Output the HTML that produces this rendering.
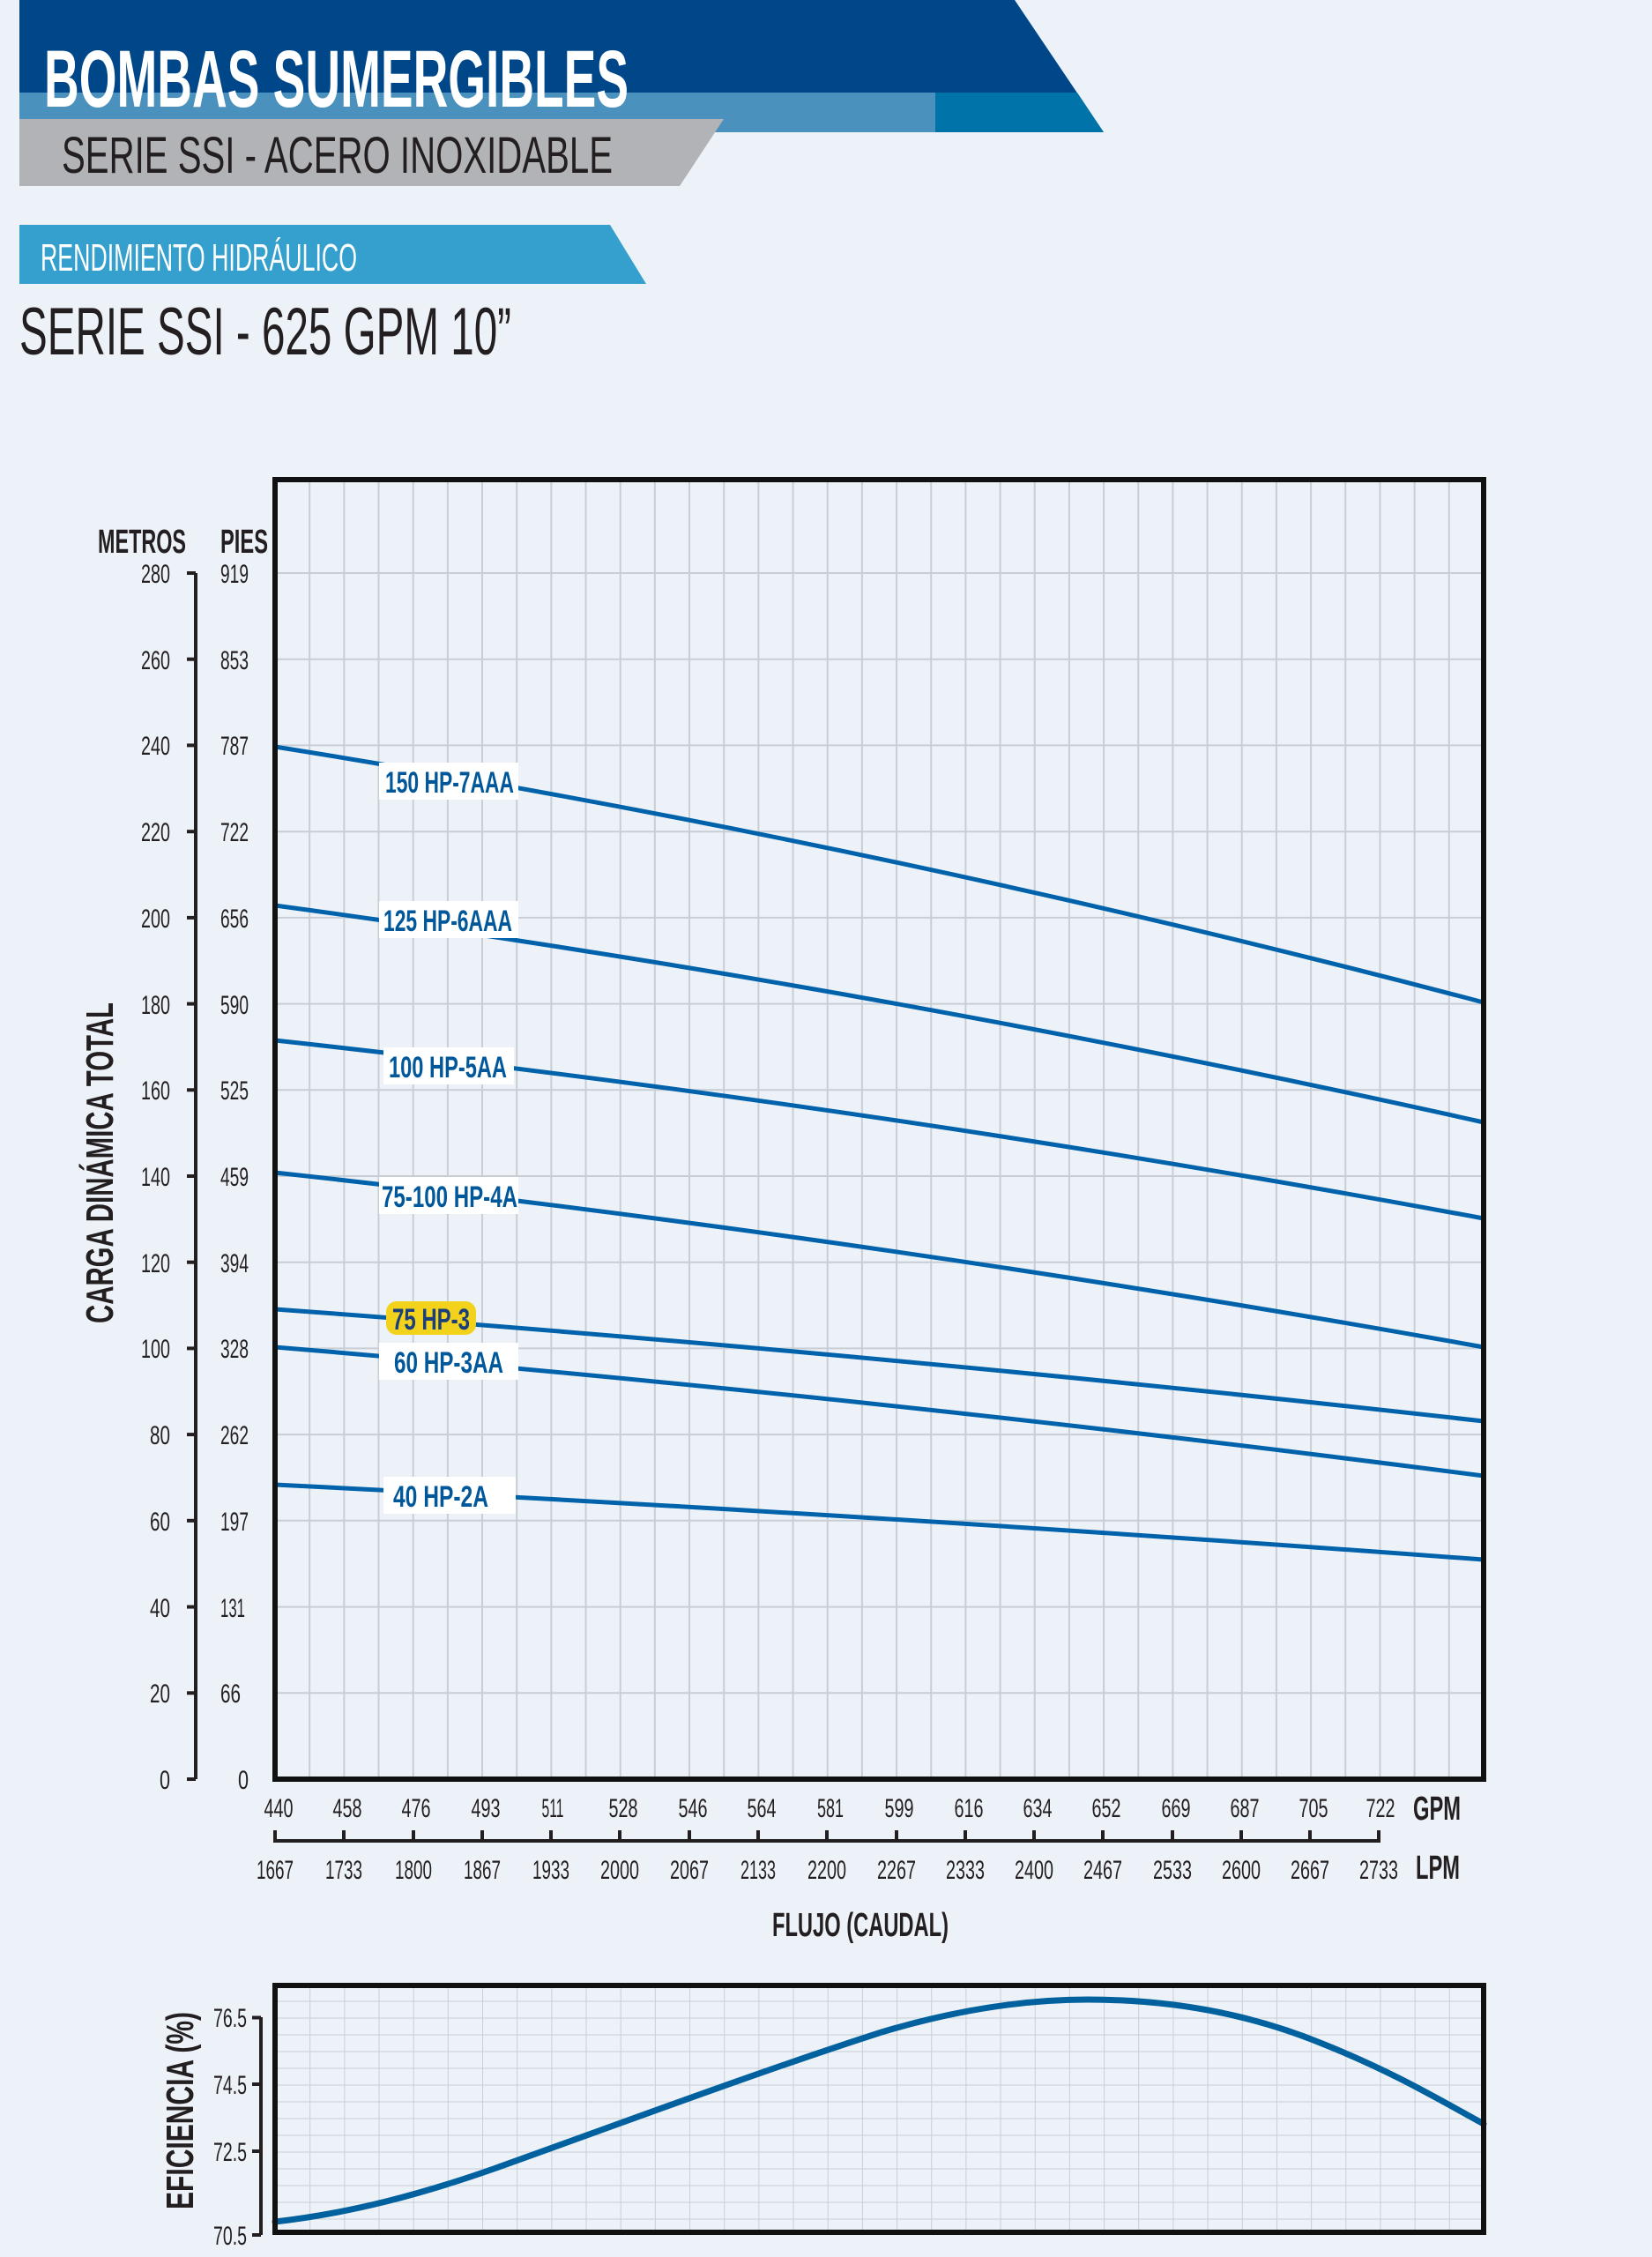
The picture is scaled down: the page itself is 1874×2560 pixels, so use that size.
<!DOCTYPE html>
<html><head><meta charset="utf-8"><style>
html,body{margin:0;padding:0;background:#edf2f9;}
svg{display:block;}
text{font-family:"Liberation Sans Narrow","Liberation Sans",sans-serif;}
</style></head><body>
<svg width="1874" height="2560" viewBox="0 0 1874 2560" xmlns="http://www.w3.org/2000/svg">
<defs>
<pattern id="g2" patternUnits="userSpaceOnUse" x="312" y="2288.5" width="39.17" height="19">
<line x1="0" y1="0" x2="0" y2="19" stroke="#c9ced5" stroke-width="2"/>
<line x1="0" y1="0" x2="39.17" y2="0" stroke="#c9ced5" stroke-width="2"/>
</pattern>
</defs>
<rect width="1874" height="2560" fill="#edf2f9"/>
<!-- header -->
<polygon points="22,0 1151,0 1252,150 22,150" fill="#00478a"/>
<rect x="22" y="105" width="1040" height="45" fill="#4a91bd"/>
<polygon points="1061,105 1222,105 1252,150 1061,150" fill="#0073a8"/>
<polygon points="22,135 821,135 771,211 22,211" fill="#b1b3b6"/>
<text x="50" y="121" font-size="92" font-weight="bold" fill="#fff" textLength="663" lengthAdjust="spacingAndGlyphs">BOMBAS  SUMERGIBLES</text>
<text x="70" y="196" font-size="58" fill="#231f20" textLength="625" lengthAdjust="spacingAndGlyphs">SERIE SSI - ACERO INOXIDABLE</text>
<polygon points="22,255 692,255 733,322 22,322" fill="#35a0ce"/>
<text x="46" y="307" font-size="44" fill="#fff" textLength="359" lengthAdjust="spacingAndGlyphs">RENDIMIENTO HIDRÁULICO</text>
<text x="22" y="402" font-size="76" fill="#231f20" textLength="558" lengthAdjust="spacingAndGlyphs">SERIE SSI -  625 GPM 10”</text>

<!-- main chart grid -->
<g stroke="#c9ced5" stroke-width="2">
<path d="M351.17,544V2018M390.34,544V2018M429.51,544V2018M468.68,544V2018M507.85,544V2018M547.02,544V2018M586.19,544V2018M625.36,544V2018M664.53,544V2018M703.7,544V2018M742.87,544V2018M782.04,544V2018M821.21,544V2018M860.38,544V2018M899.55,544V2018M938.72,544V2018M977.89,544V2018M1017.06,544V2018M1056.23,544V2018M1095.4,544V2018M1134.57,544V2018M1173.74,544V2018M1212.91,544V2018M1252.08,544V2018M1291.25,544V2018M1330.42,544V2018M1369.59,544V2018M1408.76,544V2018M1447.93,544V2018M1487.1,544V2018M1526.27,544V2018M1565.44,544V2018M1604.61,544V2018M1643.78,544V2018"/>
<path d="M312,650H1683M312,747.7H1683M312,845.4H1683M312,943.2H1683M312,1040.9H1683M312,1138.6H1683M312,1236.3H1683M312,1334H1683M312,1431.7H1683M312,1529.4H1683M312,1627.1H1683M312,1724.8H1683M312,1822.6H1683M312,1920.3H1683"/>
</g>
<g stroke="#0062ab" stroke-width="5" fill="none">
<path d="M312,847 Q997,956 1683,1137"/>
<path d="M312,1027 Q997,1120 1683,1273"/>
<path d="M312,1180 Q997,1255 1683,1382"/>
<path d="M312,1330 Q997,1405 1683,1528"/>
<path d="M312,1485 Q997,1535 1683,1612"/>
<path d="M312,1528 Q997,1585 1683,1674"/>
<path d="M312,1684 Q997,1718 1683,1769"/>
</g>
<rect x="312" y="544" width="1371" height="1474" fill="none" stroke="#111" stroke-width="6"/>
<!-- curve labels -->
<g font-size="34" font-weight="bold" fill="#00579a" text-anchor="middle">
<rect x="430" y="865" width="158" height="42" fill="#fff"/><text x="510" y="899" textLength="146" lengthAdjust="spacingAndGlyphs">150 HP-7AAA</text>
<rect x="430" y="1022" width="158" height="42" fill="#fff"/><text x="508" y="1056" textLength="146" lengthAdjust="spacingAndGlyphs">125 HP-6AAA</text>
<rect x="435" y="1188" width="148" height="42" fill="#fff"/><text x="508" y="1222" textLength="134" lengthAdjust="spacingAndGlyphs">100 HP-5AA</text>
<rect x="430" y="1335" width="158" height="42" fill="#fff"/><text x="510" y="1369" textLength="154" lengthAdjust="spacingAndGlyphs">75-100 HP-4A</text>
<rect x="438" y="1476" width="102" height="38" rx="12" fill="#f2d21b"/><text x="489" y="1508" textLength="88" lengthAdjust="spacingAndGlyphs" fill="#1a3f7a">75 HP-3</text>
<rect x="430" y="1523" width="158" height="42" fill="#fff"/><text x="509" y="1557" textLength="124" lengthAdjust="spacingAndGlyphs">60 HP-3AA</text>
<rect x="435" y="1675" width="150" height="42" fill="#fff"/><text x="500" y="1709" textLength="108" lengthAdjust="spacingAndGlyphs">40 HP-2A</text>
</g>
<!-- left axis -->
<line x1="222" y1="650" x2="222" y2="2018" stroke="#231f20" stroke-width="4"/>
<g stroke="#231f20" stroke-width="4">
<line x1="212" y1="650" x2="222" y2="650"/><line x1="212" y1="747.7" x2="222" y2="747.7"/><line x1="212" y1="845.4" x2="222" y2="845.4"/><line x1="212" y1="943.2" x2="222" y2="943.2"/><line x1="212" y1="1040.9" x2="222" y2="1040.9"/><line x1="212" y1="1138.6" x2="222" y2="1138.6"/><line x1="212" y1="1236.3" x2="222" y2="1236.3"/><line x1="212" y1="1334" x2="222" y2="1334"/><line x1="212" y1="1431.7" x2="222" y2="1431.7"/><line x1="212" y1="1529.4" x2="222" y2="1529.4"/><line x1="212" y1="1627.1" x2="222" y2="1627.1"/><line x1="212" y1="1724.8" x2="222" y2="1724.8"/><line x1="212" y1="1822.6" x2="222" y2="1822.6"/><line x1="212" y1="1920.3" x2="222" y2="1920.3"/><line x1="212" y1="2018" x2="222" y2="2018"/>
</g>
<text x="111" y="627" font-size="38" font-weight="bold" fill="#231f20" textLength="100" lengthAdjust="spacingAndGlyphs">METROS</text>
<text x="250" y="627" font-size="38" font-weight="bold" fill="#231f20" textLength="54" lengthAdjust="spacingAndGlyphs">PIES</text>
<g font-size="30" fill="#231f20" text-anchor="end">
<text x="193" y="661" textLength="33" lengthAdjust="spacingAndGlyphs">280</text><text x="193" y="759" textLength="33" lengthAdjust="spacingAndGlyphs">260</text><text x="193" y="856" textLength="33" lengthAdjust="spacingAndGlyphs">240</text><text x="193" y="954" textLength="33" lengthAdjust="spacingAndGlyphs">220</text><text x="193" y="1052" textLength="33" lengthAdjust="spacingAndGlyphs">200</text><text x="193" y="1150" textLength="33" lengthAdjust="spacingAndGlyphs">180</text><text x="193" y="1247" textLength="33" lengthAdjust="spacingAndGlyphs">160</text><text x="193" y="1345" textLength="33" lengthAdjust="spacingAndGlyphs">140</text><text x="193" y="1443" textLength="33" lengthAdjust="spacingAndGlyphs">120</text><text x="193" y="1540" textLength="33" lengthAdjust="spacingAndGlyphs">100</text><text x="193" y="1638" textLength="23" lengthAdjust="spacingAndGlyphs">80</text><text x="193" y="1736" textLength="23" lengthAdjust="spacingAndGlyphs">60</text><text x="193" y="1834" textLength="23" lengthAdjust="spacingAndGlyphs">40</text><text x="193" y="1931" textLength="23" lengthAdjust="spacingAndGlyphs">20</text><text x="193" y="2029" textLength="12" lengthAdjust="spacingAndGlyphs">0</text>
</g>
<g font-size="30" fill="#231f20">
<text x="250" y="661" textLength="32" lengthAdjust="spacingAndGlyphs">919</text><text x="250" y="759" textLength="32" lengthAdjust="spacingAndGlyphs">853</text><text x="250" y="856" textLength="32" lengthAdjust="spacingAndGlyphs">787</text><text x="250" y="954" textLength="32" lengthAdjust="spacingAndGlyphs">722</text><text x="250" y="1052" textLength="32" lengthAdjust="spacingAndGlyphs">656</text><text x="250" y="1150" textLength="32" lengthAdjust="spacingAndGlyphs">590</text><text x="250" y="1247" textLength="32" lengthAdjust="spacingAndGlyphs">525</text><text x="250" y="1345" textLength="32" lengthAdjust="spacingAndGlyphs">459</text><text x="250" y="1443" textLength="32" lengthAdjust="spacingAndGlyphs">394</text><text x="250" y="1540" textLength="32" lengthAdjust="spacingAndGlyphs">328</text><text x="250" y="1638" textLength="32" lengthAdjust="spacingAndGlyphs">262</text><text x="250" y="1736" textLength="32" lengthAdjust="spacingAndGlyphs">197</text><text x="250" y="1834" textLength="28" lengthAdjust="spacingAndGlyphs">131</text><text x="250" y="1931" textLength="23" lengthAdjust="spacingAndGlyphs">66</text><text x="270" y="2029" textLength="12" lengthAdjust="spacingAndGlyphs">0</text>
</g>
<text transform="translate(128,1319) rotate(-90)" text-anchor="middle" font-size="44" font-weight="bold" fill="#231f20" textLength="364" lengthAdjust="spacingAndGlyphs">CARGA DINÁMICA TOTAL</text>

<!-- x axis -->
<g font-size="30" fill="#231f20" text-anchor="middle">
<text x="316" y="2061" textLength="33" lengthAdjust="spacingAndGlyphs">440</text><text x="394" y="2061" textLength="33" lengthAdjust="spacingAndGlyphs">458</text><text x="472" y="2061" textLength="33" lengthAdjust="spacingAndGlyphs">476</text><text x="551" y="2061" textLength="33" lengthAdjust="spacingAndGlyphs">493</text><text x="627" y="2061" textLength="25" lengthAdjust="spacingAndGlyphs">511</text><text x="707" y="2061" textLength="33" lengthAdjust="spacingAndGlyphs">528</text><text x="786" y="2061" textLength="33" lengthAdjust="spacingAndGlyphs">546</text><text x="864" y="2061" textLength="33" lengthAdjust="spacingAndGlyphs">564</text><text x="942" y="2061" textLength="30" lengthAdjust="spacingAndGlyphs">581</text><text x="1020" y="2061" textLength="33" lengthAdjust="spacingAndGlyphs">599</text><text x="1099" y="2061" textLength="33" lengthAdjust="spacingAndGlyphs">616</text><text x="1177" y="2061" textLength="33" lengthAdjust="spacingAndGlyphs">634</text><text x="1255" y="2061" textLength="33" lengthAdjust="spacingAndGlyphs">652</text><text x="1334" y="2061" textLength="33" lengthAdjust="spacingAndGlyphs">669</text><text x="1412" y="2061" textLength="33" lengthAdjust="spacingAndGlyphs">687</text><text x="1490" y="2061" textLength="33" lengthAdjust="spacingAndGlyphs">705</text><text x="1566" y="2061" textLength="33" lengthAdjust="spacingAndGlyphs">722</text>
<text x="312" y="2131" textLength="42" lengthAdjust="spacingAndGlyphs">1667</text><text x="390" y="2131" textLength="42" lengthAdjust="spacingAndGlyphs">1733</text><text x="469" y="2131" textLength="42" lengthAdjust="spacingAndGlyphs">1800</text><text x="547" y="2131" textLength="42" lengthAdjust="spacingAndGlyphs">1867</text><text x="625" y="2131" textLength="42" lengthAdjust="spacingAndGlyphs">1933</text><text x="703" y="2131" textLength="44" lengthAdjust="spacingAndGlyphs">2000</text><text x="782" y="2131" textLength="44" lengthAdjust="spacingAndGlyphs">2067</text><text x="860" y="2131" textLength="40" lengthAdjust="spacingAndGlyphs">2133</text><text x="938" y="2131" textLength="44" lengthAdjust="spacingAndGlyphs">2200</text><text x="1017" y="2131" textLength="44" lengthAdjust="spacingAndGlyphs">2267</text><text x="1095" y="2131" textLength="44" lengthAdjust="spacingAndGlyphs">2333</text><text x="1173" y="2131" textLength="44" lengthAdjust="spacingAndGlyphs">2400</text><text x="1251" y="2131" textLength="44" lengthAdjust="spacingAndGlyphs">2467</text><text x="1330" y="2131" textLength="44" lengthAdjust="spacingAndGlyphs">2533</text><text x="1408" y="2131" textLength="44" lengthAdjust="spacingAndGlyphs">2600</text><text x="1486" y="2131" textLength="44" lengthAdjust="spacingAndGlyphs">2667</text><text x="1564" y="2131" textLength="44" lengthAdjust="spacingAndGlyphs">2733</text>
</g>
<path d="M312,2076 V2088 H1564 V2076 M390,2088 V2076 M469,2088 V2076 M547,2088 V2076 M625,2088 V2076 M703,2088 V2076 M782,2088 V2076 M860,2088 V2076 M938,2088 V2076 M1017,2088 V2076 M1095,2088 V2076 M1173,2088 V2076 M1251,2088 V2076 M1330,2088 V2076 M1408,2088 V2076 M1486,2088 V2076" stroke="#231f20" stroke-width="4" fill="none"/>
<text x="1603" y="2064" font-size="38" font-weight="bold" fill="#231f20" textLength="54" lengthAdjust="spacingAndGlyphs">GPM</text>
<text x="1606" y="2131" font-size="38" font-weight="bold" fill="#231f20" textLength="50" lengthAdjust="spacingAndGlyphs">LPM</text>
<text x="976" y="2196" text-anchor="middle" font-size="38" font-weight="bold" fill="#231f20" textLength="200" lengthAdjust="spacingAndGlyphs">FLUJO (CAUDAL)</text>

<!-- efficiency chart -->
<rect x="312" y="2252" width="1371" height="280" fill="url(#g2)"/>
<path d="M312,2520 C400,2510 480,2488 560,2460 C700,2410 860,2350 1000,2305 C1100,2275 1180,2268 1234,2268 C1330,2268 1420,2285 1500,2318 C1580,2350 1630,2380 1683,2409" fill="none" stroke="#00619e" stroke-width="7" stroke-linecap="round"/>
<rect x="312" y="2252" width="1371" height="280" fill="none" stroke="#111" stroke-width="6"/>
<line x1="296" y1="2288" x2="296" y2="2535" stroke="#231f20" stroke-width="4"/>
<g stroke="#231f20" stroke-width="4"><line x1="286" y1="2288.5" x2="296" y2="2288.5"/><line x1="286" y1="2364" x2="296" y2="2364"/><line x1="286" y1="2440" x2="296" y2="2440"/><line x1="286" y1="2535" x2="296" y2="2535"/></g>
<g font-size="30" fill="#231f20" text-anchor="end"><text x="280" y="2299" textLength="38" lengthAdjust="spacingAndGlyphs">76.5</text><text x="280" y="2375" textLength="38" lengthAdjust="spacingAndGlyphs">74.5</text><text x="280" y="2451" textLength="38" lengthAdjust="spacingAndGlyphs">72.5</text><text x="280" y="2546" textLength="38" lengthAdjust="spacingAndGlyphs">70.5</text></g>
<text transform="translate(219,2394) rotate(-90)" text-anchor="middle" font-size="44" font-weight="bold" fill="#231f20" textLength="224" lengthAdjust="spacingAndGlyphs">EFICIENCIA (%)</text>
</svg>
</body></html>
